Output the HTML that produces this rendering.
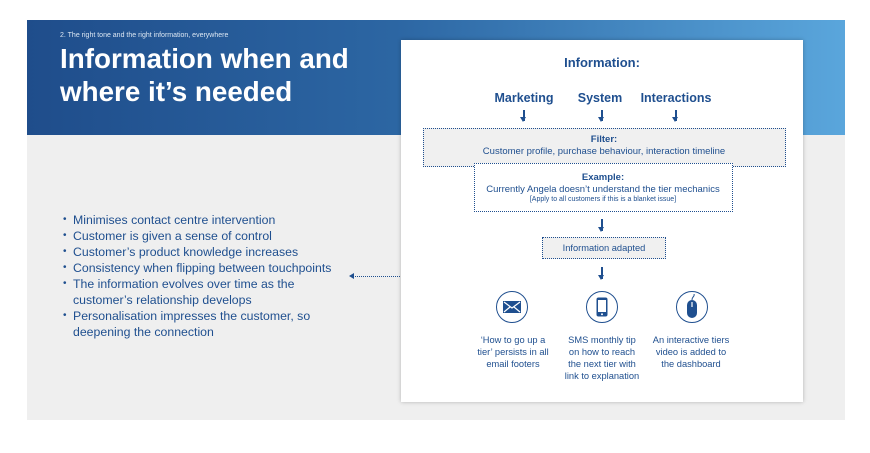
<!DOCTYPE html>
<html><head><style>
body{margin:0;width:870px;height:453px;background:#fff;position:relative;overflow:hidden;font-family:"Liberation Sans",sans-serif;color:#1f4f8f}
.a{position:absolute}
.c{position:absolute;text-align:center;transform:translateX(-50%);white-space:nowrap}
.arr{position:absolute;width:1.5px;background:#1f4f8f}
.arr:after{content:"";position:absolute;left:-3px;bottom:-1px;border-left:3.7px solid transparent;border-right:3.7px solid transparent;border-top:5px solid #1f4f8f}
.box{position:absolute;border:1.3px dotted #1f4f8f;box-sizing:border-box}
ul{margin:0;padding:0;list-style:none}
li{position:relative;padding-left:10px;font-size:12.3px;line-height:16px}
li:before{content:"•";position:absolute;left:0;font-size:10px}
.circ{position:absolute;width:32px;height:32px;border:1.6px solid #1f4f8f;border-radius:50%;box-sizing:border-box;transform:translate(-50%,-50%)}
.ic{font-size:9.3px;line-height:12px;top:334px}
</style></head><body>
<div class="a" style="left:27px;top:20px;width:818px;height:115px;background:linear-gradient(90deg,#1f4d8b 0%,#2c66a3 45%,#5aa6dc 100%)"></div>
<div class="a" style="left:27px;top:135px;width:818px;height:285px;background:#efefef"></div>
<div class="a" style="left:60px;top:32px;font-size:7px;color:#dce7f3">2. The right tone and the right information, everywhere</div>
<div class="a" style="left:60px;top:42px;font-size:27.8px;font-weight:bold;color:#fff;line-height:33px">Information when and<br>where it’s needed</div>
<ul class="a" style="left:63px;top:212px">
<li>Minimises contact centre intervention</li>
<li>Customer is given a sense of control</li>
<li>Customer’s product knowledge increases</li>
<li>Consistency when flipping between touchpoints</li>
<li>The information evolves over time as the<br>customer’s relationship develops</li>
<li>Personalisation impresses the customer, so<br>deepening the connection</li>
</ul>
<div class="a" style="left:353px;top:276px;width:57px;border-top:1.3px dotted #1f4f8f"></div>
<div class="a" style="left:349px;top:273px;border-top:3.5px solid transparent;border-bottom:3.5px solid transparent;border-right:5px solid #1f4f8f"></div>
<div class="a" style="left:401px;top:40px;width:402px;height:362px;background:#fff;box-shadow:0 0 4px rgba(0,0,0,.25)"></div>
<div class="c" style="left:602px;top:55px;font-size:13px;font-weight:bold">Information:</div>
<div class="c" style="left:524px;top:91px;font-size:12.5px;font-weight:bold">Marketing</div>
<div class="c" style="left:600px;top:91px;font-size:12.5px;font-weight:bold">System</div>
<div class="c" style="left:676px;top:91px;font-size:12.5px;font-weight:bold">Interactions</div>
<div class="arr" style="left:523px;top:110px;height:11px"></div>
<div class="arr" style="left:601px;top:110px;height:11px"></div>
<div class="arr" style="left:675px;top:110px;height:11px"></div>
<div class="box" style="left:423px;top:128px;width:363px;height:39px;background:#f0f0f0"></div>
<div class="c" style="left:604px;top:134px;font-size:9.5px;font-weight:bold">Filter:</div>
<div class="c" style="left:604px;top:146px;font-size:9.5px">Customer profile, purchase behaviour, interaction timeline</div>
<div class="box" style="left:474px;top:163px;width:259px;height:49px;background:#fff"></div>
<div class="c" style="left:603px;top:172px;font-size:9.5px;font-weight:bold">Example:</div>
<div class="c" style="left:603px;top:184px;font-size:9.5px">Currently Angela doesn’t understand the tier mechanics</div>
<div class="c" style="left:603px;top:196px;font-size:7px">[Apply to all customers if this is a blanket issue]</div>
<div class="arr" style="left:601px;top:219px;height:12px"></div>
<div class="box" style="left:542px;top:237px;width:124px;height:22px;background:#f0f0f0"></div>
<div class="c" style="left:604px;top:243px;font-size:9.3px">Information adapted</div>
<div class="arr" style="left:601px;top:267px;height:12px"></div>
<div class="circ" style="left:512px;top:307px"></div>
<div class="circ" style="left:602px;top:307px"></div>
<div class="circ" style="left:692px;top:307px"></div>
<svg class="a" style="left:503px;top:301px" width="18" height="12"><rect width="18" height="12" fill="#1f4f8f"/><path d="M1 1L9 7L17 1M1 11L7 6M17 11L11 6" stroke="#fff" stroke-width="1.2" fill="none"/></svg>
<svg class="a" style="left:596px;top:297px" width="12" height="20"><rect x="0.5" y="0.5" width="11" height="19" rx="2" fill="#1f4f8f"/><rect x="2" y="3" width="8" height="12" fill="#fff"/><circle cx="6" cy="17.3" r="1" fill="#fff"/></svg>
<svg class="a" style="left:686px;top:294px" width="12" height="26"><path d="M6 6C6 2 9 3 8 0" stroke="#1f4f8f" fill="none"/><rect x="1" y="6" width="10" height="18" rx="5" fill="#1f4f8f"/><line x1="6" y1="8" x2="6" y2="13" stroke="#fff" stroke-width="1.2"/></svg>
<div class="c ic" style="left:513px">‘How to go up a<br>tier’ persists in all<br>email footers</div>
<div class="c ic" style="left:602px">SMS monthly tip<br>on how to reach<br>the next tier with<br>link to explanation</div>
<div class="c ic" style="left:691px">An interactive tiers<br>video is added to<br>the dashboard</div>
</body></html>
